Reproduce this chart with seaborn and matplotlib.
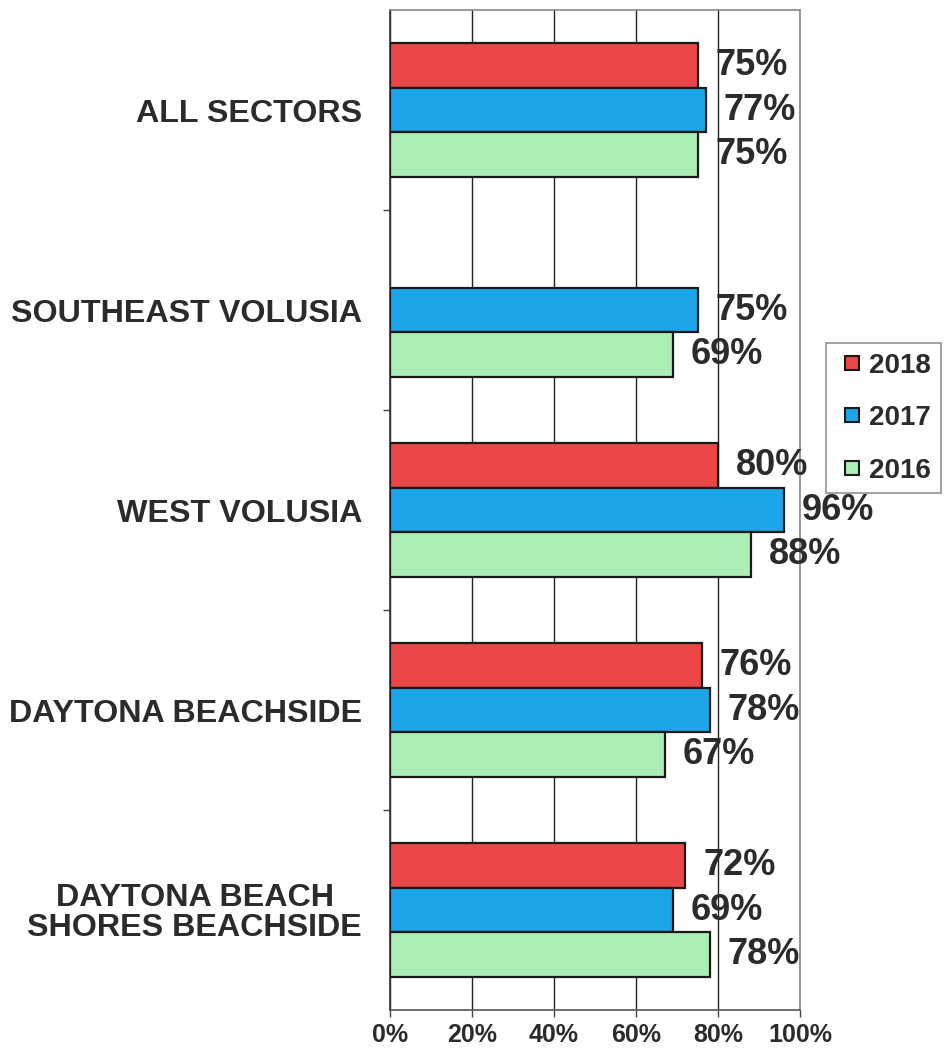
import matplotlib
matplotlib.use("Agg")
import matplotlib.pyplot as plt
from matplotlib.lines import Line2D
import seaborn as sns
import pandas as pd
import numpy as np

categories = ["ALL SECTORS", "SOUTHEAST VOLUSIA", "WEST VOLUSIA",
              "DAYTONA BEACHSIDE", "DAYTONA BEACH\nSHORES BEACHSIDE"]
years = ["2018", "2017", "2016"]
v2018 = [75, None, 80, 76, 72]
v2017 = [77, 75, 96, 78, 69]
v2016 = [75, 69, 88, 67, 78]
colors = ["#EC4646", "#1AA6E8", "#ABEEB6"]
xticks = [0, 20, 40, 60, 80, 100]

rows = []
for yr, vals in zip(years, [v2018, v2017, v2016]):
    for c, v in zip(categories, vals):
        if v is not None:
            rows.append({"cat": c, "year": yr, "val": v})
df = pd.DataFrame(rows)

sns.set_theme(style="white")
plt.rcParams["font.family"] = ["Liberation Sans", "DejaVu Sans"]
plt.rcParams["font.weight"] = "bold"
txt = "#2b2b2b"

fig = plt.figure(figsize=(9.47, 10.54), dpi=100)
ax = fig.add_axes([390/947, 1-1010/1054, 410/947, 1000/1054])

sns.barplot(data=df, y="cat", x="val", hue="year", order=categories,
            hue_order=years, palette=colors, orient="h", width=0.667,
            saturation=1, errorbar=None, edgecolor="#1a1a1a",
            linewidth=1.6, ax=ax, zorder=3, legend=False)

for cont in ax.containers:
    labels = [f"{int(round(w))}%" for w in cont.datavalues]
    anns = ax.bar_label(cont, labels=labels, padding=13, fontsize=26,
                        fontweight="bold", color=txt)
    for a in anns:
        a.set_zorder(10)
        a.set_clip_on(False)

ax.set_xlim(0, 100)
ax.set_ylim(4.5, -0.5)
ax.set_xticks(xticks)
ax.set_xticklabels([f"{t}%" for t in xticks], fontsize=18,
                   fontweight="bold", color=txt)
ax.xaxis.grid(True, color="#222222", linewidth=1.0, zorder=0)
ax.set_axisbelow(True)
ax.tick_params(axis="x", length=5, width=1, color="#444444", pad=4,
               bottom=True)
ax.set_yticks(range(len(categories)))
ax.set_yticklabels(categories, fontsize=23.2, fontweight="bold",
                   color=txt, linespacing=1.0, multialignment="center")
ax.tick_params(axis="y", length=0, pad=20)
ax.set_yticks(np.arange(0.5, len(categories) - 1, 1.0), minor=True)
ax.tick_params(axis="y", which="minor", length=5, width=1,
               color="#444444", left=True)
ax.set_xlabel("")
ax.set_ylabel("")

for s in ["top", "right"]:
    ax.spines[s].set_color("#8a8a8a")
    ax.spines[s].set_linewidth(1.2)
ax.spines["left"].set_color("#333333")
ax.spines["bottom"].set_color("#555555")
ax.spines["left"].set_linewidth(1.2)
ax.spines["bottom"].set_linewidth(1.2)

handles = [Line2D([], [], linestyle="none", marker="s", markersize=10.5,
                  markerfacecolor=c, markeredgecolor="#1a1a1a",
                  markeredgewidth=1.5) for c in colors]
leg = ax.legend(handles, years, loc="upper left",
                bbox_to_anchor=(826/947, 1-343/1054),
                bbox_transform=fig.transFigure,
                fontsize=20, frameon=True, fancybox=False,
                edgecolor="#777777", handlelength=1.2,
                handletextpad=0.0, labelspacing=0.95, borderpad=0.35,
                borderaxespad=0)
leg.set_zorder(5)
leg.get_frame().set_linewidth(1.2)
for t in leg.get_texts():
    t.set_color(txt)
    t.set_fontweight("bold")

fig.savefig("out.png", dpi=100, facecolor="white")
